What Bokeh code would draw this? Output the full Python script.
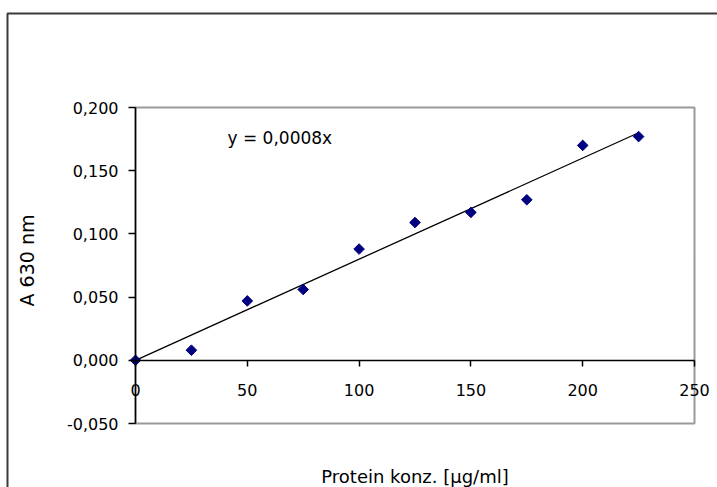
import math
from bokeh.plotting import figure
from bokeh.models import (Range1d, FixedTicker, CustomJSTickFormatter, Label,
                          BoxAnnotation, LinearAxis)
from bokeh.embed import file_html
from bokeh.resources import INLINE

# ---- data ----
conc = [0, 25, 50, 75, 100, 125, 150, 175, 200, 225]
absorb = [0.000, 0.008, 0.047, 0.056, 0.088, 0.109, 0.117, 0.127, 0.170, 0.177]
slope = 0.0008
x_ticks = [0, 50, 100, 150, 200, 250]
y_ticks = [-0.05, 0.0, 0.05, 0.10, 0.15, 0.20]
x_min, x_max = 0, 250
y_min, y_max = -0.05, 0.20
equation = "y = 0,0008x"
x_title = "Protein konz. [µg/ml]"
y_title = "A 630 nm"

FONT = "DejaVu Sans"
W, H = 717, 487
# pixel placement of the plot area inside the canvas
PL, PR, PT, PB = 135, 694, 107, 423
sx = (PR - PL) / (x_max - x_min)
sy = (PB - PT) / (y_max - y_min)
xr = Range1d(x_min - PL / sx, x_max + (W - PR) / sx)
yr = Range1d(y_min - (H - PB) / sy, y_max + PT / sy)

p = figure(width=W, height=H, x_range=xr, y_range=yr,
           x_axis_location=None, y_axis_location=None,
           output_backend="svg", toolbar_location=None, min_border=0)
p.min_border_left = p.min_border_right = p.min_border_top = p.min_border_bottom = 0
p.background_fill_color = "white"
p.border_fill_color = "white"
p.outline_line_color = None
p.xgrid.visible = False
p.ygrid.visible = False

# outer chart frame (right/bottom edges lie off-page)
p.add_layout(BoxAnnotation(left=x_min - (PL - 7) / sx, right=x_max + 200,
                           top=y_max + (PT - 13) / sy, bottom=y_min - 1,
                           fill_color=None, fill_alpha=0,
                           line_color="#3a3a3a", line_alpha=1.0,
                           line_width=2, level="underlay"))
# plot area border
p.add_layout(BoxAnnotation(left=x_min, right=x_max, top=y_max, bottom=y_min,
                           fill_color=None, fill_alpha=0,
                           line_color="#9a9a9a", line_alpha=1.0,
                           line_width=2, level="underlay"))

# x axis drawn at y = 0
xa = LinearAxis(fixed_location=0, bounds=(x_min, x_max))
xa.ticker = FixedTicker(ticks=x_ticks)
xa.axis_line_color = "black"
xa.axis_line_width = 1.5
xa.major_tick_line_color = "black"
xa.major_tick_line_width = 1.5
xa.major_tick_in = 0
xa.major_tick_out = 6
xa.minor_tick_line_color = None
xa.major_label_standoff = 18
xa.major_label_text_font = FONT
xa.major_label_text_font_size = "16px"
xa.major_label_text_color = "black"
p.add_layout(xa, "below")

ya = LinearAxis(fixed_location=0, bounds=(y_min, y_max))
ya.ticker = FixedTicker(ticks=y_ticks)
ya.formatter = CustomJSTickFormatter(code="return tick.toFixed(3).replace('.', ',');")
ya.axis_line_color = "black"
ya.axis_line_width = 1.5
ya.major_tick_line_color = "black"
ya.major_tick_line_width = 1.5
ya.major_tick_in = 0
ya.major_tick_out = 7
ya.minor_tick_line_color = None
ya.major_label_standoff = 10
ya.major_label_text_font = FONT
ya.major_label_text_font_size = "16px"
ya.major_label_text_color = "black"
p.add_layout(ya, "left")

# y axis title
p.add_layout(Label(x=x_min - (PL - 26) / sx, y=y_max - (260 - PT) / sy,
                   text=y_title, angle=math.pi / 2, text_align="center",
                   text_baseline="middle", text_font=FONT,
                   text_font_size="19px", text_color="black"))

# trend line through origin
fit_x = [0, conc[-1]]
fit_y = [slope * v for v in fit_x]
p.line(fit_x, fit_y, line_color="black", line_width=1.3)

# data points
p.scatter(conc, absorb, marker="square", angle=math.pi / 4, size=7.5,
          fill_color="#000080", line_color="#000080")

# equation label
p.add_layout(Label(x=x_min + (227 - PL) / sx, y=y_max - (137 - PT) / sy,
                   text=equation, text_baseline="middle",
                   text_font=FONT, text_font_size="17px", text_color="black"))

# x axis title below plot area
p.add_layout(Label(x=(x_min + x_max) / 2, y=y_max - (476 - PT) / sy,
                   text=x_title, text_align="center", text_baseline="middle",
                   text_font=FONT, text_font_size="18px", text_color="black"))

open("out.html", "w").write(file_html(p, INLINE))
